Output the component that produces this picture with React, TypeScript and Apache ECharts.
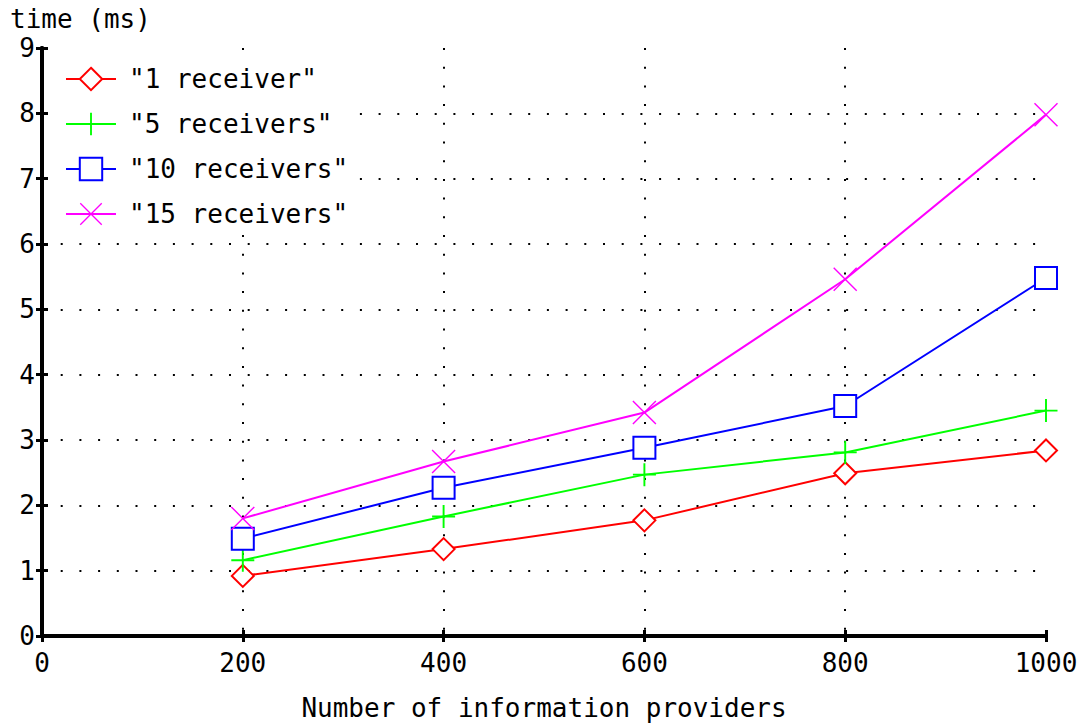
import React, { useEffect, useRef } from "react";
import * as echarts from "echarts";

const providers = [200, 400, 600, 800, 1000];
const seriesNames = ['"1 receiver"', '"5 receivers"', '"10 receivers"', '"15 receivers"'];
const oneReceiver = [0.92, 1.33, 1.77, 2.49, 2.84];
const fiveReceivers = [1.16, 1.83, 2.47, 2.81, 3.45];
const tenReceivers = [1.49, 2.27, 2.88, 3.52, 5.48];
const fifteenReceivers = [1.8, 2.67, 3.42, 5.46, 7.98];
const xTitle = "Number of information providers";
const yTitle = "time (ms)";

const FONT = "DejaVu Sans Mono";
const PLUS = "path://M11,0 h2 v11 h11 v2 h-11 v11 h-2 v-11 h-11 v-2 h11 z";
const CROSS =
  "path://M0,1 L1,0 L24,23 L23,24 Z M24,1 L1,24 L0,23 L23,0 Z";

export default function App() {
  const ref = useRef<HTMLDivElement>(null);
  useEffect(() => {
    if (!ref.current) return;
    const chart = echarts.init(ref.current, null, { renderer: "svg", width: 1083, height: 726 });
    const mk = (name: string, data: number[], color: string, symbol: string, size: number) => ({
      name,
      type: "line",
      data: providers.map((p, i) => [p, data[i]]),
      symbol,
      symbolSize: size,
      showSymbol: true,
      lineStyle: { color, width: 2 },
      itemStyle: { color, borderColor: color, borderWidth: symbol.startsWith("empty") ? 2 : 0 },
      emphasis: { disabled: true },
      z: 5,
    });
    const dotted = { color: "#000", width: 2, type: [2, 16.7] as any };
    const plain = (v: number) => String(v);
    chart.setOption({
      animation: false,
      backgroundColor: "#fff",
      textStyle: { fontFamily: FONT },
      grid: { left: 42, right: 37, top: 48, bottom: 90, containLabel: false },
      graphic: [
        {
          type: "text",
          left: 10,
          top: 6,
          style: { text: yTitle, fontFamily: FONT, fontSize: 26, fill: "#000" },
        },
      ],
      legend: {
        left: 60,
        top: 60,
        orient: "vertical",
        padding: 5,
        itemWidth: 50,
        itemHeight: 28,
        itemGap: 17,
        backgroundColor: "#fff",
        z: 10,
        data: seriesNames,
        textStyle: { fontFamily: FONT, fontSize: 26, color: "#000", padding: [0, 0, 0, 8], lineHeight: 28 },
        selectedMode: false,
      },
      xAxis: [
        {
          type: "value",
          min: 0,
          max: 1000,
          interval: 200,
          position: "bottom",
          name: xTitle,
          nameLocation: "middle",
          nameGap: 59,
          nameTextStyle: { fontFamily: FONT, fontSize: 26, color: "#000" },
          axisLine: { show: true, lineStyle: { color: "#000", width: 4 } },
          axisTick: { show: true, inside: true, length: 6, lineStyle: { color: "#000", width: 3 } },
          axisLabel: { fontFamily: FONT, fontSize: 26, color: "#000", margin: 14, formatter: plain },
          splitLine: { show: true, lineStyle: dotted, showMinLine: false, showMaxLine: false },
        },
        {
          type: "value",
          min: 0,
          max: 1000,
          interval: 200,
          position: "top",
          axisLine: { show: true, lineStyle: { color: "#000", width: 4 } },
          axisTick: { show: true, inside: true, length: 6, lineStyle: { color: "#000", width: 3 } },
          axisLabel: { show: false },
          splitLine: { show: false },
        },
      ],
      yAxis: [
        {
          type: "value",
          min: 0,
          max: 9,
          interval: 1,
          position: "left",
          axisLine: { show: true, lineStyle: { color: "#000", width: 4 } },
          axisTick: { show: true, inside: true, length: 6, lineStyle: { color: "#000", width: 3 } },
          axisLabel: { fontFamily: FONT, fontSize: 26, color: "#000", margin: 7, formatter: plain },
          splitLine: { show: true, lineStyle: dotted, showMinLine: false, showMaxLine: false },
        },
        {
          type: "value",
          min: 0,
          max: 9,
          interval: 1,
          position: "right",
          axisLine: { show: true, lineStyle: { color: "#000", width: 4 } },
          axisTick: { show: true, inside: true, length: 6, lineStyle: { color: "#000", width: 3 } },
          axisLabel: { show: false },
          splitLine: { show: false },
        },
      ],
      series: [
        mk(seriesNames[0], oneReceiver, "#ff0000", "emptyDiamond", 22),
        mk(seriesNames[1], fiveReceivers, "#00ff00", PLUS, 23),
        mk(seriesNames[2], tenReceivers, "#0000ff", "emptyRect", 22),
        mk(seriesNames[3], fifteenReceivers, "#ff00ff", CROSS, 24),
      ],
    });
    return () => chart.dispose();
  }, []);
  return (
    <div
      ref={ref}
      style={{ position: "fixed", left: 0, top: 0, width: 1083, height: 726, background: "#fff" }}
    />
  );
}
